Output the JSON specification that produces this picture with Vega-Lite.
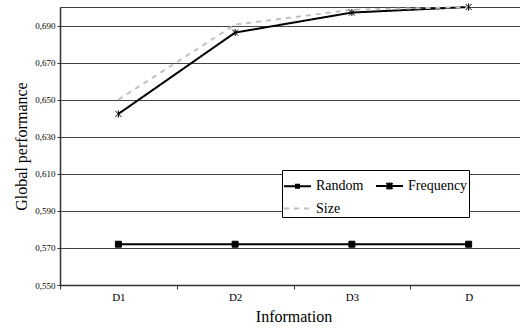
{
  "$schema": "https://vega.github.io/schema/vega-lite/v6.json",
  "width": 460,
  "height": 278,
  "autosize": {"type": "none"},
  "padding": {"left": 60, "top": 7, "right": 0, "bottom": 44},
  "background": "white",
  "config": {
    "locale": {"number": {"decimal": ",", "thousands": ".", "grouping": [3], "currency": ["", " €"]}},
    "view": {"stroke": "#444", "strokeWidth": 1},
    "font": "'Liberation Serif', 'Times New Roman', serif",
    "axis": {"labelFont": "'Liberation Serif', 'Times New Roman', serif", "titleFont": "'Liberation Serif', 'Times New Roman', serif", "labelColor": "black", "titleColor": "black", "titleFontWeight": "normal", "domainColor": "#333", "tickColor": "#333"},
    "legend": {"labelFont": "'Liberation Serif', 'Times New Roman', serif"}
  },
  "data": {
    "values": [
      {"info": "D1", "series": "Random", "value": 0.572},
      {"info": "D2", "series": "Random", "value": 0.572},
      {"info": "D3", "series": "Random", "value": 0.572},
      {"info": "D", "series": "Random", "value": 0.572},
      {"info": "D1", "series": "Frequency", "value": 0.6423},
      {"info": "D2", "series": "Frequency", "value": 0.6862},
      {"info": "D3", "series": "Frequency", "value": 0.697},
      {"info": "D", "series": "Frequency", "value": 0.7},
      {"info": "D1", "series": "Size", "value": 0.65},
      {"info": "D2", "series": "Size", "value": 0.6905},
      {"info": "D3", "series": "Size", "value": 0.6985},
      {"info": "D", "series": "Size", "value": 0.7}
    ]
  },
  "encoding": {
    "x": {
      "field": "info", "type": "nominal", "sort": ["D1", "D2", "D3", "D"],
      "scale": {"type": "band", "paddingInner": 0, "paddingOuter": 0, "range": [0, 467]},
      "axis": {"title": "Information", "titleFontSize": 16, "titlePadding": 6, "labelFontSize": 11, "labelAngle": 0, "tickBand": "extent", "tickSize": 4, "labelPadding": 2, "grid": false, "domainWidth": 1.5}
    },
    "y": {
      "field": "value", "type": "quantitative",
      "scale": {"domain": [0.55, 0.7], "nice": false, "zero": false},
      "axis": {"title": "Global performance", "titleFontSize": 16, "titlePadding": 5, "labelFontSize": 9, "format": ".3f", "values": [0.55, 0.57, 0.59, 0.61, 0.63, 0.65, 0.67, 0.69], "tickSize": 3, "labelPadding": 2, "grid": true, "gridColor": "#444", "gridWidth": 1, "domainWidth": 1.5}
    }
  },
  "layer": [
    {
      "mark": {"type": "line", "strokeWidth": 2},
      "encoding": {
        "color": {
          "field": "series", "type": "nominal",
          "scale": {"domain": ["Random", "Frequency", "Size"], "range": ["black", "black", "#c0c0c0"]},
          "legend": {
            "title": null, "orient": "none", "legendX": 222, "legendY": 163, "columns": 2, "direction": "horizontal",
            "fillColor": "white", "strokeColor": "black", "padding": 1,
            "symbolSize": 729, "symbolStrokeWidth": 2, "labelFontSize": 14, "labelColor": "black",
            "labelOffset": 4, "columnPadding": 8, "rowPadding": -5,
            "encode": {"symbols": {"update": {
              "shape": {"signal": "datum.value === 'Random' ? 'M-1,0H1M-0.11,-0.11H0.11V0.11H-0.11Z' : datum.value === 'Frequency' ? 'M-1,0H1M-0.22,-0.22L0.22,0.22M-0.22,0.22L0.22,-0.22M0,-0.26V0.26' : 'M-1,0H1'"},
              "fill": {"value": "black"}
            }}}
          }
        },
        "strokeDash": {
          "field": "series", "type": "nominal",
          "scale": {"domain": ["Random", "Frequency", "Size"], "range": [[1, 0], [1, 0], [5, 5]]}
        }
      }
    },
    {
      "transform": [{"filter": "datum.series !== 'Size'"}],
      "mark": {"type": "point", "filled": true, "fill": "black", "stroke": "black", "strokeWidth": 1, "opacity": 1},
      "encoding": {
        "shape": {
          "field": "series", "type": "nominal",
          "scale": {"domain": ["Random", "Frequency"], "range": ["square", "M-1,-1L1,1M-1,1L1,-1M0,-1.2V1.2"]},
          "legend": null
        },
        "size": {"value": 36}
      }
    }
  ]
}
